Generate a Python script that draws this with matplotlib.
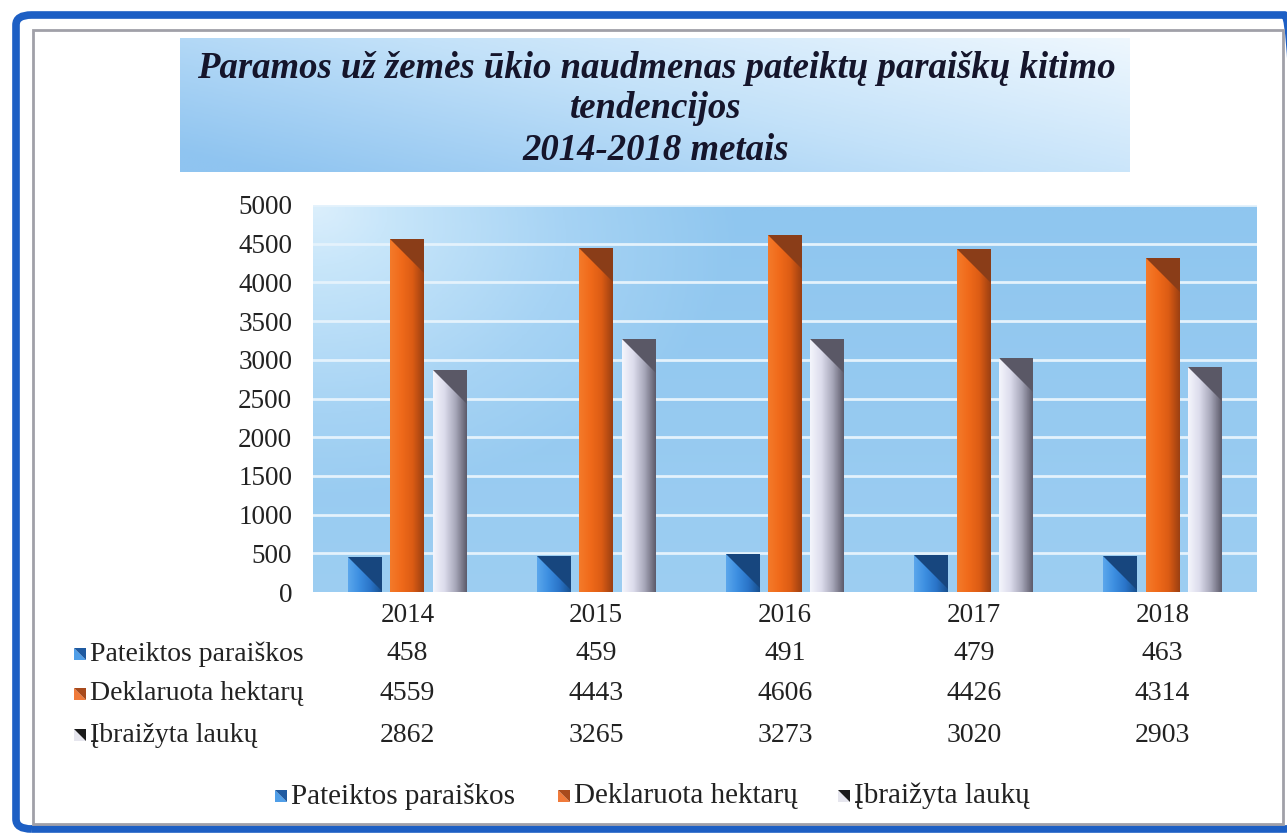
import numpy as np
import matplotlib.pyplot as plt
from matplotlib.colors import LinearSegmentedColormap
from matplotlib.patches import Polygon, FancyBboxPatch, Rectangle
from matplotlib.transforms import blended_transform_factory

# Data
years = ['2014', '2015', '2016', '2017', '2018']
series_names = ['Pateiktos paraiškos', 'Deklaruota hektarų', 'Įbraižyta laukų']
pateiktos = [458, 459, 491, 479, 463]
deklaruota = [4559, 4443, 4606, 4426, 4314]
ibraizyta = [2862, 3265, 3273, 3020, 2903]
title_lines = ['Paramos už žemės ūkio naudmenas pateiktų paraiškų kitimo',
               'tendencijos', '2014-2018 metais']

W, H = 1287, 833
plt.rcParams['font.family'] = ['Liberation Serif', 'DejaVu Serif']

fig = plt.figure(figsize=(W / 100, H / 100), dpi=100)
fig.patch.set_facecolor('white')

def fx(px):
    return px / W

def fy(py):
    return 1 - py / H

# outer frame
fig.patches.append(FancyBboxPatch((fx(16), fy(829)), fx(1300) - fx(16), fy(15) - fy(829),
                                  boxstyle='round,pad=0,rounding_size=0.012',
                                  transform=fig.transFigure, fill=False,
                                  edgecolor='#1d5fc4', linewidth=5.5, zorder=0))
fig.patches.append(Rectangle((fx(33), fy(824)), fx(1283) - fx(33), fy(30) - fy(824),
                             transform=fig.transFigure, fill=False,
                             edgecolor='#a0a0a8', linewidth=2.0, zorder=0))

# title box with gradient
tax = fig.add_axes([fx(180), fy(172), fx(1130) - fx(180), fy(38) - fy(172)])
tax.axis('off')
gx, gy = np.meshgrid(np.linspace(0, 1, 200), np.linspace(1, 0, 60))
tgrad = np.clip(0.65 * (1 - gx) + 0.4 * (1 - gy), 0, 1)
tcmap = LinearSegmentedColormap.from_list('t', ['#eef7fe', '#c2e1f9', '#8fc4f0'])
tax.imshow(tgrad, cmap=tcmap, extent=[0, 1, 0, 1], aspect='auto', vmin=0, vmax=1)
for i, line in enumerate(title_lines):
    fig.text(fx(656), fy(68 + i * 41), line, ha='center', va='center',
             fontsize=26.5, fontweight='bold', fontstyle='italic', color='#15152b')

# main plot
ax = fig.add_axes([fx(313), fy(592), fx(1257) - fx(313), fy(205) - fy(592)])
bx, by = np.meshgrid(np.linspace(0, 1, 300), np.linspace(1, 0, 200))
dist = np.sqrt((bx / 0.45) ** 2 + ((1 - by) / 0.75) ** 2)
bgrad = np.clip(dist, 0, 1) * 0.8 + 0.2 * by
bcmap = LinearSegmentedColormap.from_list('b', ['#f8fcff', '#c8e6fa', '#a6d3f4', '#8fc6ef'])
ax.imshow(bgrad, cmap=bcmap, extent=[0, 1, 0, 1], transform=ax.transAxes,
          aspect='auto', zorder=0, vmin=0, vmax=1)

x = np.arange(len(years))
width = 0.18
offset = 0.225
data = [pateiktos, deklaruota, ibraizyta]
grads = [['#5aa6ec', '#3c8ee0', '#2a74c8', '#18508f'],
         ['#f47a2a', '#f06a1a', '#dc5c14', '#9c4012'],
         ['#f4f5fc', '#dcdcec', '#a8a8ba', '#5e5c6c']]
tops = ['#17467e', '#8a3d18', '#5a5866']

ax.set_xlim(-0.5, len(years) - 0.5)
ax.set_ylim(0, 5000)
for y in range(500, 5001, 500):
    ax.axhline(y, color='#e4f2fc', lw=2, zorder=1)

px_per_x = (1257 - 313) / len(years)
px_per_y = (592 - 205) / 5000
chamfer = width * px_per_x / px_per_y

for k, vals in enumerate(data):
    bars = ax.bar(x + (k - 1) * offset, vals, width, color='none', zorder=2)
    cmap = LinearSegmentedColormap.from_list('g%d' % k, grads[k])
    for b in bars:
        x0, x1, h = b.get_x(), b.get_x() + b.get_width(), b.get_height()
        im = ax.imshow(np.linspace(0, 1, 50).reshape(1, -1), cmap=cmap,
                       extent=[x0, x1, 0, h], aspect='auto', zorder=3)
        im.set_clip_path(b)
        ax.add_patch(Polygon([(x0, h), (x1, h), (x1, max(h - chamfer, 0))],
                             closed=True, color=tops[k], zorder=4, lw=0))

ax.set_xlim(-0.5, len(years) - 0.5)
ax.set_ylim(0, 5000)
ax.set_yticks(range(0, 5001, 500))
ax.set_xticks(x)
ax.set_xticklabels(years)
ax.tick_params(length=0, labelsize=19.5, colors='#222222')
ax.tick_params(axis='y', pad=15)
ax.tick_params(axis='x', pad=8)
for s in ax.spines.values():
    s.set_visible(False)

# data table under the chart
trans = blended_transform_factory(ax.transData, fig.transFigure)
row_y = [654, 694, 735]
sw_light = ['#4f9ee8', '#f07a3a', '#e6e6ee']
sw_dark = ['#1f5aa0', '#a84a1c', '#1a1a1a']

def swatch(xp, yp, k, s=12):
    x0, x1 = fx(xp), fx(xp + s)
    y0, y1 = fy(yp + s / 2), fy(yp - s / 2)
    fig.patches.append(Polygon([(x0, y1), (x0, y0), (x1, y0)], closed=True,
                               transform=fig.transFigure, color=sw_light[k], lw=0))
    fig.patches.append(Polygon([(x0, y1), (x1, y1), (x1, y0)], closed=True,
                               transform=fig.transFigure, color=sw_dark[k], lw=0))

for k, vals in enumerate(data):
    swatch(74, row_y[k], k)
    fig.text(fx(90), fy(row_y[k]), series_names[k], ha='left', va='center',
             fontsize=20, color='#222222')
    for i, v in enumerate(vals):
        ax.text(x[i], fy(row_y[k]), str(v), transform=trans, ha='center',
                va='center', fontsize=20, color='#222222')

# legend
leg_x = [275, 558, 838]
for k in range(3):
    swatch(leg_x[k], 796, k)
    fig.text(fx(leg_x[k] + 16), fy(796), series_names[k], ha='left', va='center',
             fontsize=21, color='#222222')

fig.savefig('out.png', dpi=100)
